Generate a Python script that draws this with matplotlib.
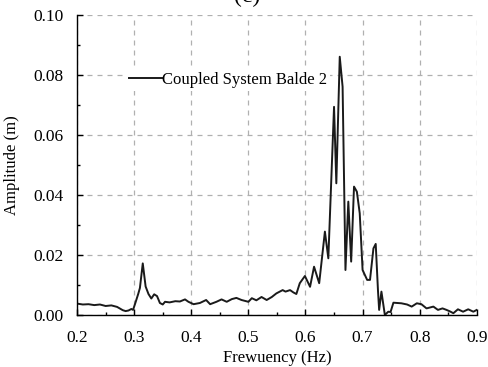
import matplotlib
matplotlib.use("Agg")
import matplotlib.pyplot as plt
from matplotlib.ticker import MultipleLocator, FormatStrFormatter

# ── podaci (ocitano sa slike) ────────────────────────────────────────────────
freq = [0.200, 0.210, 0.220, 0.230, 0.240, 0.250, 0.260, 0.270, 0.280, 0.285,
        0.290, 0.295, 0.298, 0.302, 0.307, 0.310, 0.315, 0.320, 0.325, 0.330,
        0.335, 0.340, 0.345, 0.350, 0.354, 0.362, 0.372, 0.380, 0.389, 0.395,
        0.404, 0.415, 0.426, 0.433, 0.444, 0.453, 0.462, 0.471, 0.479, 0.488,
        0.500, 0.506, 0.514, 0.523, 0.532, 0.541, 0.549, 0.555, 0.560, 0.565,
        0.573, 0.579, 0.584, 0.590, 0.599, 0.608, 0.615, 0.624, 0.634, 0.640,
        0.650, 0.654, 0.660, 0.665, 0.670, 0.675, 0.680, 0.685, 0.690, 0.695,
        0.700, 0.708, 0.713, 0.719, 0.723, 0.727, 0.729, 0.733, 0.739, 0.745,
        0.749, 0.754, 0.768, 0.778, 0.786, 0.795, 0.803, 0.812, 0.824, 0.832,
        0.840, 0.847, 0.853, 0.859, 0.867, 0.876, 0.885, 0.894, 0.900]
amp = [0.0038, 0.0035, 0.0036, 0.0033, 0.0035, 0.0030, 0.0032, 0.0027, 0.0016, 0.0013,
       0.0015, 0.0020, 0.0017, 0.0040, 0.0070, 0.0090, 0.0172, 0.0095, 0.0070, 0.0055,
       0.0069, 0.0063, 0.0040, 0.0035, 0.0044, 0.0042, 0.0046, 0.0045, 0.0052, 0.0044,
       0.0036, 0.0040, 0.0050, 0.0036, 0.0044, 0.0052, 0.0044, 0.0053, 0.0057, 0.0050,
       0.0044, 0.0056, 0.0049, 0.0060, 0.0050, 0.0060, 0.0072, 0.0078, 0.0083, 0.0078,
       0.0083, 0.0075, 0.0070, 0.0106, 0.0130, 0.0094, 0.0161, 0.0106, 0.0278, 0.0189,
       0.0694, 0.0439, 0.0861, 0.0761, 0.0150, 0.0378, 0.0178, 0.0428, 0.0411, 0.0339,
       0.0150, 0.0117, 0.0117, 0.0222, 0.0237, 0.0080, 0.0017, 0.0078, 0.0000, 0.0011,
       0.0010, 0.0041, 0.0039, 0.0035, 0.0028, 0.0039, 0.0036, 0.0022, 0.0028, 0.0017,
       0.0022, 0.0017, 0.0012, 0.0006, 0.0019, 0.0011, 0.0019, 0.0011, 0.0017]

# ── stil ─────────────────────────────────────────────────────────────────────
plt.rcParams.update({
    "font.family": "Liberation Serif",
    "font.size": 12,
    "axes.linewidth": 1.0,
    "xtick.direction": "in",
    "ytick.direction": "in",
})

fig = plt.figure(figsize=(4.88, 3.67), dpi=100)
ax = fig.add_axes([0.158, 0.1417, 0.819, 0.8173])

ax.plot(freq, amp, color="#1a1a1a", linewidth=1.4, label="Coupled System Balde 2")

ax.set_xlim(0.2, 0.9)
ax.set_ylim(0.0, 0.10)
ax.xaxis.set_major_locator(MultipleLocator(0.1))
ax.xaxis.set_minor_locator(MultipleLocator(0.05))
ax.yaxis.set_major_locator(MultipleLocator(0.02))
ax.yaxis.set_minor_locator(MultipleLocator(0.01))
ax.xaxis.set_major_formatter(FormatStrFormatter("%.1f"))
ax.yaxis.set_major_formatter(FormatStrFormatter("%.2f"))
ax.tick_params(which="major", length=4, width=1.0, labelsize=12.5)
ax.tick_params(axis="x", which="major", pad=11)
ax.tick_params(axis="y", which="major", pad=10)
ax.tick_params(which="minor", length=2.5, width=1.0)

ax.spines["top"].set_visible(False)
ax.spines["right"].set_visible(False)
ax.grid(True, which="major", linestyle=(0, (4, 4)), color="#b0b0b0", linewidth=0.9)
ax.set_axisbelow(True)

ax.set_xlabel("Frewuency (Hz)", labelpad=3)
ax.set_ylabel("Amplitude (m)", labelpad=9)

leg = ax.legend(loc="upper left", bbox_to_anchor=(0.1, 0.85), frameon=True,
                handlelength=2.0, handletextpad=0.0, borderpad=0.2,
                fontsize=12)
leg.get_frame().set_facecolor("white")
leg.get_frame().set_edgecolor("none")
leg.get_frame().set_alpha(1.0)

fig.text(0.506, 0.995, "(c)", ha="center", va="baseline", fontsize=17)

fig.savefig("out.png", dpi=100)
